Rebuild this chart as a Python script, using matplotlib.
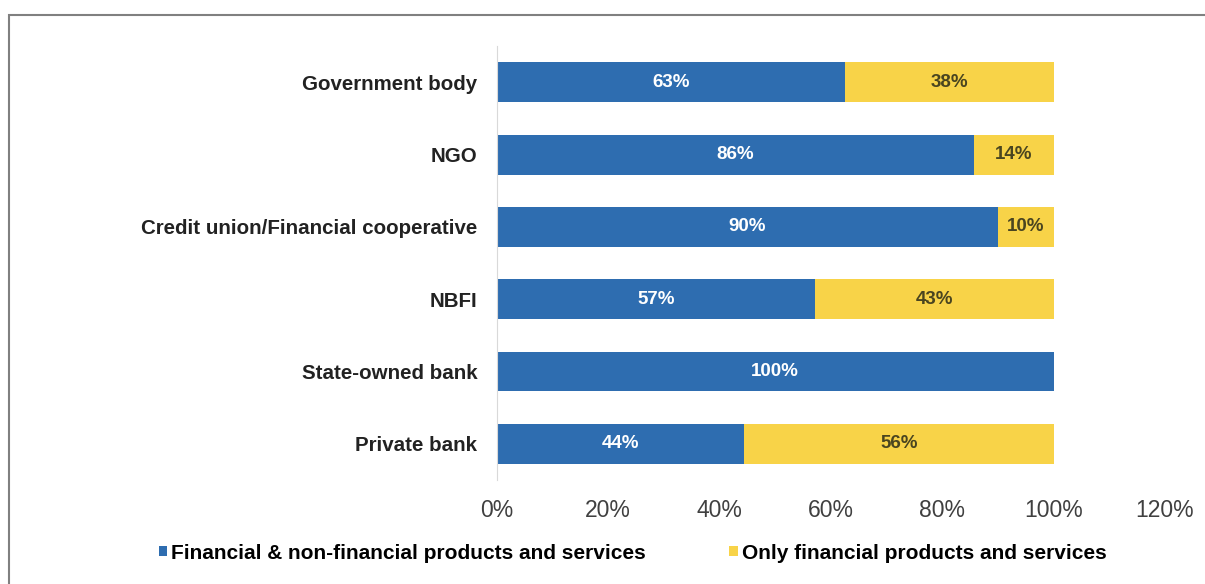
"""Stacked bar chart: product offering by institution type."""
import matplotlib.pyplot as plt
from matplotlib.patches import Rectangle
from matplotlib.ticker import PercentFormatter

categories = ["Government body", "NGO", "Credit union/Financial cooperative",
              "NBFI", "State-owned bank", "Private bank"]
fin_nonfin = [62.5, 85.7, 90.0, 57.1, 100.0, 44.4]
only_fin = [37.5, 14.3, 10.0, 42.9, 0.0, 55.6]
fin_nonfin_labels = ["63%", "86%", "90%", "57%", "100%", "44%"]
only_fin_labels = ["38%", "14%", "10%", "43%", "", "56%"]
series_names = ["Financial & non-financial products and services",
                "Only financial products and services"]

blue = "#2E6DB0"
yellow = "#F8D348"

plt.rcParams["font.family"] = ["Liberation Sans", "DejaVu Sans"]
fig = plt.figure(figsize=(12.05, 5.84), dpi=100)
ax = fig.add_axes([0.4124, 0.178, 0.5544, 0.743])

y = list(range(len(categories)))[::-1]
b1 = ax.barh(y, fin_nonfin, height=0.55, color=blue, label=series_names[0])
b2 = ax.barh(y, only_fin, left=fin_nonfin, height=0.55, color=yellow,
             label=series_names[1])

for yi, v, lab in zip(y, fin_nonfin, fin_nonfin_labels):
    ax.text(v / 2, yi, lab, ha="center", va="center", color="white",
            fontsize=13.5, fontweight="bold")
for yi, s, v, lab in zip(y, fin_nonfin, only_fin, only_fin_labels):
    if lab:
        ax.text(s + v / 2, yi, lab, ha="center", va="center", color="#4a4520",
                fontsize=13.5, fontweight="bold")

ax.set_xlim(0, 120)
ax.set_ylim(-0.5, len(categories) - 0.5)
ax.set_xticks([0, 20, 40, 60, 80, 100, 120])
ax.xaxis.set_major_formatter(PercentFormatter(decimals=0))
ax.set_yticks(y)
ax.set_yticklabels(categories, fontsize=14.8, fontweight="bold", color="#222222")
ax.tick_params(axis="x", length=0, pad=14, labelsize=16.5, labelcolor="#404040")
ax.tick_params(axis="y", length=0, pad=14)
for side in ["top", "right", "bottom"]:
    ax.spines[side].set_visible(False)
ax.spines["left"].set_color("#d9d9d9")

fig.legend(handles=[b1, b2], loc="center", bbox_to_anchor=(0.525, 0.053),
           ncol=2, frameon=False, handlelength=0.4, handleheight=0.4,
           handletextpad=0.2, columnspacing=4,
           prop={"size": 15, "weight": "bold"})

fig.patches.append(Rectangle((9 / 1205, -0.1), 1.2, 0.1 + 1 - 15 / 584,
                             transform=fig.transFigure, fill=False,
                             edgecolor="#808080", linewidth=1.5))

fig.savefig("out.png", dpi=100)
plt.close(fig)
